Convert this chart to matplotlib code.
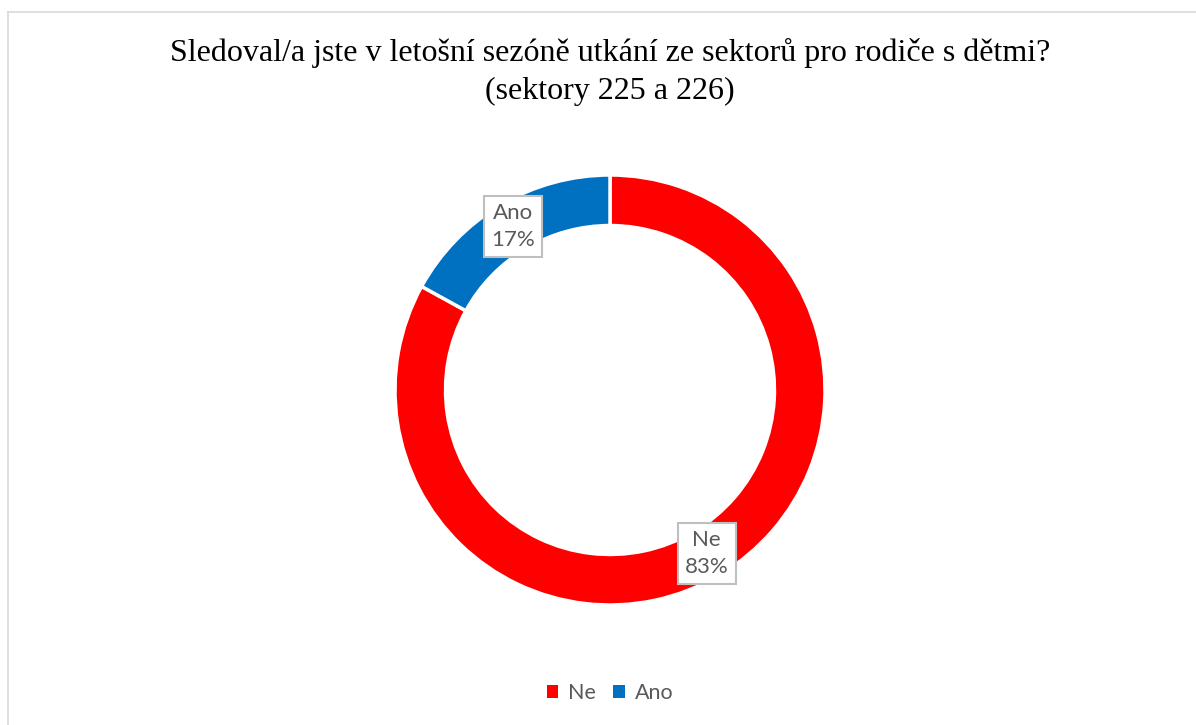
import matplotlib.pyplot as plt
import numpy as np
from matplotlib.patches import Rectangle

# Survey answers
answers = ['Ne', 'Ano']
shares = [83, 17]
colors = ['#ff0000', '#0070c0']

title = 'Sledoval/a jste v letošní sezóně utkání ze sektorů pro rodiče s dětmi?\n(sektory 225 a 226)'

W, H = 1196, 725
fig = plt.figure(figsize=(W / 100, H / 100), dpi=100)
fig.patch.set_facecolor('white')

# chart frame (only top and left edges visible)
fig.add_artist(plt.Line2D([8 / W, 1], [1 - 12 / H, 1 - 12 / H], color='#d9d9d9', lw=1.2, transform=fig.transFigure))
fig.add_artist(plt.Line2D([8 / W, 8 / W], [0, 1 - 12 / H], color='#d9d9d9', lw=1.2, transform=fig.transFigure))

# donut axes: center (610, 390) px, radius 215 px
cx, cy, r = 610, 390, 215
ax = fig.add_axes([(cx - r) / W, (H - cy - r) / H, 2 * r / W, 2 * r / H])
wedges, _ = ax.pie(shares, colors=colors, startangle=90, counterclock=False, radius=1,
                   wedgeprops=dict(width=0.235, edgecolor='white', linewidth=2.5))
ax.set_xlim(-1, 1)
ax.set_ylim(-1, 1)
ax.set_aspect('equal')
ax.axis('off')

# data labels in the middle of the ring
for w, name, val in zip(wedges, answers, shares):
    mid = np.deg2rad((w.theta1 + w.theta2) / 2)
    rr = 1 - 0.235 / 2
    ax.text(rr * np.cos(mid), rr * np.sin(mid), f'{name}\n{val}%', ha='center', va='center',
            fontsize=16, color='#595959', family='Lato', linespacing=1.45,
            bbox=dict(boxstyle='square,pad=0.32', facecolor='white', edgecolor='#bfbfbf', linewidth=1.5))

fig.text(cx / W, 1 - 72 / H, title, ha='center', va='center', fontsize=23,
         family='Liberation Serif', color='black', linespacing=1.4)

handles = [Rectangle((0, 0), 1, 1, facecolor=c) for c in colors]
leg = fig.legend(handles, answers, loc='center', bbox_to_anchor=(cx / W, 1 - 693 / H), ncol=2,
                 frameon=False, handlelength=0.55, handleheight=0.55, handletextpad=0.45,
                 columnspacing=0.8, prop=dict(family='Lato', size=15.5))
for t in leg.get_texts():
    t.set_color('#595959')

fig.savefig('out.png', dpi=100)
